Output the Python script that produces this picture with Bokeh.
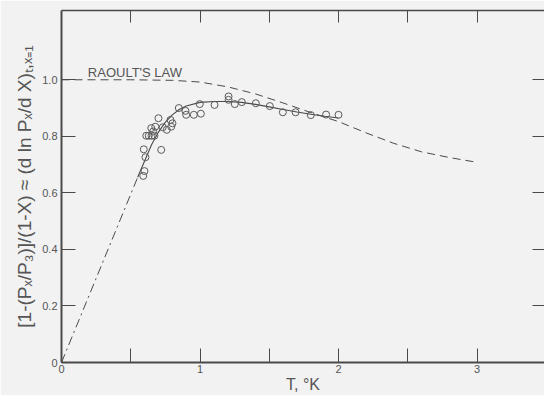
from bokeh.plotting import figure
from bokeh.models import Range1d, FixedTicker, LinearAxis, Label
from bokeh.embed import file_html
from bokeh.resources import INLINE

# ---- data ----
T_obs = [0.590, 0.599, 0.606, 0.594, 0.720, 0.612, 0.630, 0.650, 0.671, 0.662,
         0.648, 0.677, 0.731, 0.760, 0.792, 0.801, 0.787, 0.700, 0.847, 0.895,
         0.900, 0.955, 1.006, 0.998, 1.105, 1.206, 1.206, 1.251, 1.302, 1.403,
         1.504, 1.598, 1.690, 1.800, 1.910, 2.000]
R_obs = [0.660, 0.677, 0.726, 0.754, 0.752, 0.802, 0.802, 0.802, 0.802, 0.817,
         0.829, 0.834, 0.832, 0.823, 0.834, 0.846, 0.858, 0.864, 0.900, 0.890,
         0.876, 0.876, 0.880, 0.914, 0.911, 0.941, 0.929, 0.914, 0.921, 0.917,
         0.907, 0.885, 0.885, 0.875, 0.877, 0.876]

T_fit = [0.55, 0.60, 0.65, 0.70, 0.75, 0.80, 0.85, 0.90, 1.00, 1.10, 1.20, 1.30,
         1.40, 1.50, 1.60, 1.70, 1.80, 1.90, 2.00]
R_fit = [0.655, 0.713, 0.770, 0.815, 0.850, 0.876, 0.895, 0.907, 0.920, 0.923,
         0.923, 0.920, 0.913, 0.904, 0.895, 0.886, 0.878, 0.871, 0.865]

T_extrap = [0.0, 0.55]
R_extrap = [0.0, 0.655]

T_raoult = [0.0, 0.5, 0.8, 1.0, 1.2, 1.4, 1.6, 1.8, 2.0, 2.2, 2.4, 2.6, 2.8, 3.0]
R_raoult = [1.0, 1.0, 0.998, 0.992, 0.975, 0.950, 0.918, 0.884, 0.852, 0.812,
            0.775, 0.745, 0.725, 0.708]

x_ticks = [0, 0.5, 1, 1.5, 2, 2.5, 3]
x_tick_labels = ["0", "", "1", "", "2", "", "3"]
y_ticks = [0, 0.2, 0.4, 0.6, 0.8, 1.0]
y_tick_labels = ["0", "0.2", "0.4", "0.6", "0.8", "1.0"]

Y_TITLE = "[1-(Pₓ/P₃)]/(1-X) ≈ (d ln Pₓ/d X)ₜ,ₓ₌₁"
X_TITLE = "T, °K"
LAW_TEXT = "RAOULT'S LAW"

BG = "#f2f2f2"
INK = "#4a4a4a"
TXT = "#555555"
FONT = "Liberation Sans"

p = figure(width=544, height=395, output_backend="svg", toolbar_location=None,
           x_range=Range1d(0, 3.487), y_range=Range1d(0, 1.245),
           min_border_left=61, min_border_right=0, min_border_top=10,
           min_border_bottom=33)
p.background_fill_color = BG
p.border_fill_color = BG
p.outline_line_color = None
p.grid.visible = False

def style_axis(ax, tick_in, lw):
    ax.major_tick_in = tick_in
    ax.major_tick_out = 0
    ax.minor_tick_in = 0
    ax.minor_tick_out = 0
    ax.major_tick_line_color = INK
    ax.major_tick_line_width = 1
    ax.axis_line_color = INK
    ax.axis_line_width = lw
    ax.major_label_text_color = TXT
    ax.major_label_text_font = FONT
    ax.major_label_text_font_size = "11px"

xa = p.xaxis[0]
style_axis(xa, 14, 2)
xa.ticker = FixedTicker(ticks=x_ticks)
xa.major_label_overrides = {t: l for t, l in zip(x_ticks, x_tick_labels)}
xa.major_label_standoff = 2
xa.axis_label = X_TITLE
xa.axis_label_text_font = FONT
xa.axis_label_text_font_size = "16px"
xa.axis_label_text_font_style = "normal"
xa.axis_label_text_color = TXT
xa.axis_label_standoff = 0

ya = p.yaxis[0]
style_axis(ya, 14, 2)
ya.ticker = FixedTicker(ticks=y_ticks)
ya.major_label_overrides = {t: l for t, l in zip(y_ticks, y_tick_labels)}
ya.major_label_standoff = 4
ya.axis_label = Y_TITLE
ya.axis_label_text_font = FONT
ya.axis_label_text_font_size = "19px"
ya.axis_label_text_font_style = "normal"
ya.axis_label_text_color = TXT
ya.axis_label_standoff = 4

top = LinearAxis(ticker=FixedTicker(ticks=x_ticks[1:]))
style_axis(top, 12, 1.5)
top.major_label_overrides = {t: "" for t in x_ticks[1:]}
top.major_label_standoff = 0
p.add_layout(top, "above")

right = LinearAxis(ticker=FixedTicker(ticks=y_ticks[1:]))
style_axis(right, 12, 1)
right.axis_line_alpha = 0
right.major_label_overrides = {t: "" for t in y_ticks[1:]}
right.major_label_standoff = 0
p.add_layout(right, "right")

# curves
p.line(T_raoult, R_raoult, line_color=INK, line_width=1, line_dash="8 5")
p.line(T_extrap, R_extrap, line_color=INK, line_width=1, line_dash="9 4 2 4")
p.line(T_fit, R_fit, line_color=INK, line_width=1.1)
p.scatter(T_obs, R_obs, marker="circle", size=7, fill_color=None,
          line_color="#5a5a5a", line_width=1)

p.add_layout(Label(x=0.19, y=1.025, text=LAW_TEXT, text_font=FONT,
                   text_font_size="13px", text_color=TXT,
                   text_baseline="alphabetic"))

open("out.html", "w").write(file_html(p, INLINE))
